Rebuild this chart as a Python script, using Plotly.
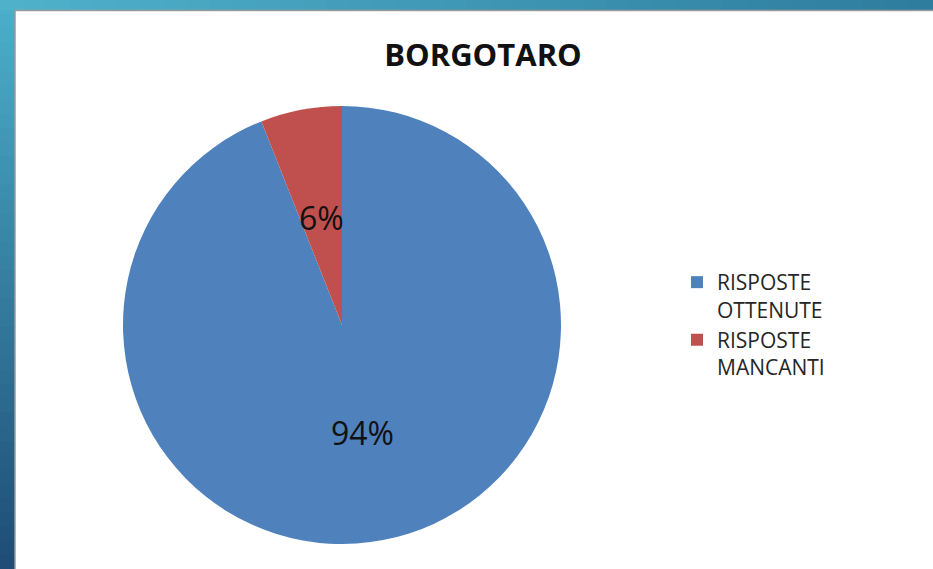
import math
import plotly.graph_objects as go

categories = ["RISPOSTE<br>OTTENUTE", "RISPOSTE<br>MANCANTI"]
values = [94, 6]
colors = ["#4F81BD", "#C0504D"]
title_text = "BORGOTARO"

W, H = 933, 569
CX, CY, R = 342, 325, 219  # pie centre / radius in pixels (layout)

fig = go.Figure()
fig.add_trace(go.Pie(
    labels=categories,
    values=values,
    sort=False,
    direction="clockwise",
    rotation=0,
    marker=dict(colors=colors, line=dict(width=0)),
    textinfo="none",
    domain=dict(x=[(CX - R) / W, (CX + R) / W], y=[1 - (CY + R) / H, 1 - (CY - R) / H]),
    hoverinfo="label+percent",
))

# data labels placed at half radius along each slice's mid angle (computed from values)
total = sum(values)
annotations = []
cum = 0.0
for v in values:
    mid = (cum + v / 2) / total * 2 * math.pi
    cum += v
    px = CX + 0.5 * R * math.sin(mid)
    py = CY - 0.5 * R * math.cos(mid)
    annotations.append(dict(
        x=px / W, y=1 - py / H, xref="paper", yref="paper",
        text="%d%%" % round(v / total * 100), showarrow=False,
        font=dict(size=32, color="#111111", family="Open Sans"),
        xanchor="center", yanchor="middle"))

shapes = []
n = 40
def lerp(c1, c2, t):
    return "rgb(%d,%d,%d)" % tuple(round(a + (b - a) * t) for a, b in zip(c1, c2))
top_c = (76, 176, 203)
bot_c = (30, 76, 116)
for i in range(n):
    y0 = max(0, 1 - (i + 1) / n - 0.004)
    y1 = 1 - i / n
    shapes.append(dict(type="rect", xref="paper", yref="paper", x0=0, x1=15 / W, y0=y0, y1=y1,
                       fillcolor=lerp(top_c, bot_c, (i + 0.5) / n), line=dict(width=0), layer="above"))
left_c = (80, 178, 204)
right_c = (46, 124, 158)
for i in range(n):
    shapes.append(dict(type="rect", xref="paper", yref="paper", x0=i / n, x1=min(1, (i + 1) / n + 0.004),
                       y0=1 - 10 / H, y1=1,
                       fillcolor=lerp(left_c, right_c, (i + 0.5) / n), line=dict(width=0), layer="above"))
shapes.append(dict(type="line", xref="paper", yref="paper", x0=15 / W, x1=15 / W, y0=0, y1=1 - 10 / H,
                   line=dict(color="#9a9a9a", width=1.5), layer="above"))
shapes.append(dict(type="line", xref="paper", yref="paper", x0=15 / W, x1=1, y0=1 - 10.5 / H, y1=1 - 10.5 / H,
                   line=dict(color="#9a9a9a", width=1.5), layer="above"))

fig.update_layout(
    width=W, height=H,
    margin=dict(l=0, r=0, t=0, b=0),
    paper_bgcolor="white",
    plot_bgcolor="white",
    shapes=shapes,
    annotations=annotations,
    title=dict(text="<b>" + title_text + "</b>", x=483 / W, xanchor="center", y=1 - 55 / H, yanchor="middle",
               font=dict(size=31, color="#111111", family="Open Sans")),
    legend=dict(x=677 / W, xanchor="left", y=1 - 262 / H, yanchor="top", valign="top",
                font=dict(size=21, color="#262626", family="Open Sans"),
                bgcolor="rgba(0,0,0,0)"),
    showlegend=True,
)

fig.write_html("out.html", config={"displayModeBar": False},
               post_script="document.body.style.margin='0';document.body.style.overflow='hidden';")
